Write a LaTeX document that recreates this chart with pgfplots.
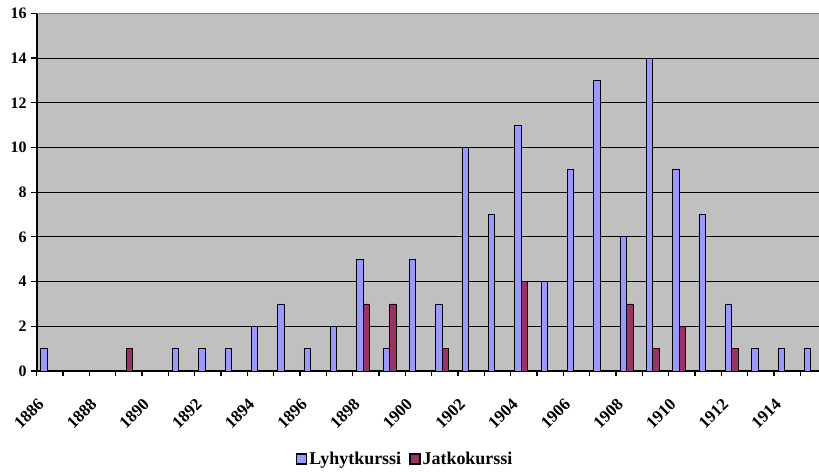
\documentclass[border=0pt]{standalone}
\usepackage{fontspec}
\setmainfont{Liberation Serif}
\usepackage{pgfplots}
\pgfplotsset{compat=1.18}
\definecolor{lyh}{HTML}{9999FF}
\definecolor{jat}{HTML}{993366}
\definecolor{plotbg}{HTML}{C0C0C0}

\begin{document}
\begin{tikzpicture}
  \begin{axis}[
      scale only axis,
      width=782.3bp, height=357.7bp,
      xmin=1885.5, xmax=1915.21,
      ymin=0, ymax=16,
      axis x line*=bottom, axis y line*=left,
      axis line style={black, line width=1.6bp},
      axis background/.style={fill=plotbg},
      ytick={0,2,...,16},
      ymajorgrids,
      grid style={black, line width=1bp},
      xtick={1886,1888,...,1914},
      xticklabels={1886,1888,1890,1892,1894,1896,1898,1900,1902,1904,1906,1908,1910,1912,1914},
      minor xtick={1885.5,1886.5,...,1914.5},
      tick align=outside,
      major tick length=6bp,
      minor tick length=5bp,
      tick style={black, line width=1.2bp},
      major x tick style={draw=none},
      ticklabel style={font=\bfseries\fontsize{16}{16}\selectfont},
      yticklabel style={inner sep=2bp, xshift=-2bp},
      xticklabel style={font=\bfseries\fontsize{17}{17}\selectfont,
        xshift=-13bp, yshift=-19bp, rotate=45, anchor=north east, inner sep=1bp},
      /pgf/number format/assume math mode=true,
      legend style={at={(0.471,-0.246)}, anchor=center, draw=none, fill=none,
        legend columns=2, font=\bfseries\fontsize{18}{18}\selectfont,
        /tikz/every even column/.append style={column sep=6bp}},
    ]
    % Lyhytkurssi
    \addplot[ybar, bar width=0.25, bar shift=-0.225, fill=lyh, draw=black, line width=0.8bp,
      legend image code/.code={\draw[fill=lyh, draw=black, line width=1.5bp] (0bp,-5bp) rectangle (10bp,5bp);}]
      coordinates {
        (1886,1) (1891,1) (1892,1) (1893,1) (1894,2) (1895,3) (1896,1) (1897,2)
        (1898,5) (1899,1) (1900,5) (1901,3) (1902,10) (1903,7) (1904,11) (1905,4)
        (1906,9) (1907,13) (1908,6) (1909,14) (1910,9) (1911,7) (1912,3) (1913,1)
        (1914,1) (1915,1)
      };
    \addlegendentry{Lyhytkurssi}
    % Jatkokurssi
    \addplot[ybar, bar width=0.25, bar shift=0.025, fill=jat, draw=black, line width=0.8bp,
      legend image code/.code={\draw[fill=jat, draw=black, line width=1.5bp] (0bp,-5bp) rectangle (10bp,5bp);}]
      coordinates {
        (1889,1) (1898,3) (1899,3) (1901,1) (1904,4) (1908,3) (1909,1) (1910,2) (1912,1)
      };
    \addlegendentry{Jatkokurssi}
    \draw[gray, line width=1bp] (rel axis cs:0,1) -- (rel axis cs:1,1);
  \end{axis}
  \pgfresetboundingbox
  \path (-36.7bp,-101bp) rectangle (782.3bp,371bp);
\end{tikzpicture}
\end{document}
